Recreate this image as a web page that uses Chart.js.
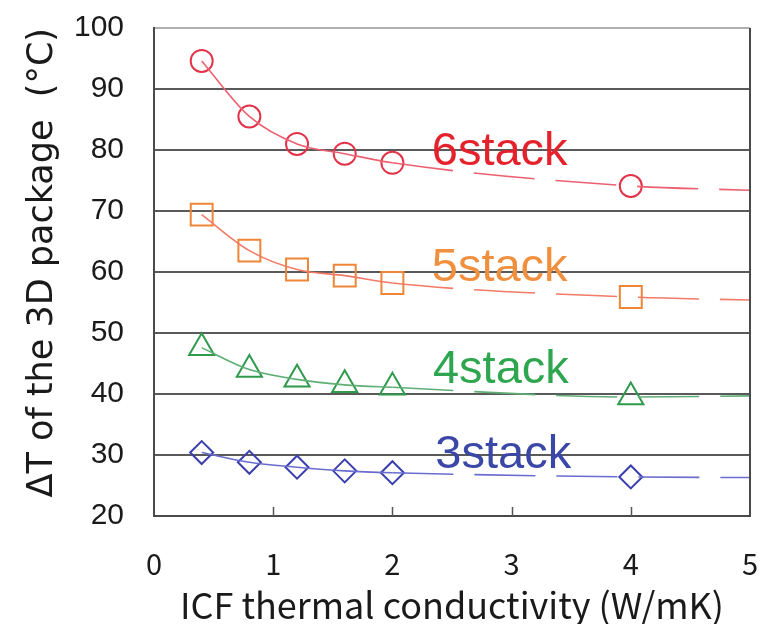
<!DOCTYPE html>
<html>
<head>
<meta charset="utf-8">
<script src="https://cdn.jsdelivr.net/npm/chart.js@4.4.0/dist/chart.umd.min.js"></script>
<style>
  html, body { margin: 0; padding: 0; background: #fff; }
  #wrap { width: 761px; height: 624px; }
</style>
</head>
<body>
<div id="wrap"><canvas id="icf-chart" width="761" height="624"></canvas></div>
<script>
// ICF conductivity (W/mK) where the simulation was run
const kVals = [0.4, 0.8, 1.2, 1.6, 2, 4];
// fit curve runs on to the right edge
const kFit = [0.4, 0.8, 1.2, 1.6, 2, 4, 5];

const seriesNames = ['6stack', '5stack', '4stack', '3stack'];
const stack6 = [94.6, 85.5, 81.0, 79.4, 77.9, 74.1];
const stack5 = [69.4, 63.5, 60.4, 59.4, 58.2, 55.9];
const stack4 = [47.6, 44.0, 42.4, 41.5, 41.1, 39.5];
const stack3 = [30.4, 28.8, 28.0, 27.4, 27.1, 26.4];
const fitEnd = [73.4, 55.4, 39.7, 26.3];   // value of the trend line at k = 5

// where the series names sit, in data units (x, baseline y)
const labelX = [2.33, 2.33, 2.34, 2.36];
const labelY = [77.6, 58.6, 41.8, 27.9];

const yTicks = [20, 30, 40, 50, 60, 70, 80, 90, 100];
const xTicks = [0, 1, 2, 3, 4, 5];

const markerColors = ['#e2334a', '#ef8536', '#2f9a4c', '#3a3fae'];
const lineColors = ['#ec6070', '#f27a66', '#5fae74', '#6a6cd0'];
const textColors = ['#e5222c', '#f0903e', '#2ea54f', '#3a47a6'];
const shapes = ['circle', 'rect', 'triangle', 'rectRot'];
const radii = [11, 15.5, 14.5, 11.5];

const all = [stack6, stack5, stack4, stack3];
let datasets = [];

all.forEach((vals, i) => {
    let fit = vals.map((v, j) => ({ x: kFit[j], y: v }));
    fit.push({ x: kFit[6], y: fitEnd[i] });
    datasets.push({
        label: seriesNames[i] + ' fit',
        data: fit,
        borderColor: lineColors[i],
        borderWidth: 1.6,
        pointRadius: 0,
        fill: false,
        cubicInterpolationMode: 'monotone',
        segment: {
            borderDash: c => c.p0.parsed.x >= 2 ? [61, 21] : undefined
        }
    });
    datasets.push({
        label: seriesNames[i],
        data: vals.map((v, j) => ({ x: kVals[j], y: v })),
        showLine: false,
        pointStyle: shapes[i],
        pointRadius: radii[i],
        pointBorderWidth: 2,
        pointBorderColor: markerColors[i],
        pointBackgroundColor: 'rgba(0,0,0,0)'
    });
});

// names beside the curves, short inner x ticks, right frame line
const extras = {
    id: 'extras',
    afterDatasetsDraw(chart) {
        const { ctx, scales: { x, y }, chartArea } = chart;
        ctx.save();
        ctx.font = '47px "Liberation Sans", Arial, sans-serif';
        ctx.textBaseline = 'alphabetic';
        seriesNames.forEach((name, i) => {
            ctx.fillStyle = textColors[i];
            ctx.fillText(name, x.getPixelForValue(labelX[i]), y.getPixelForValue(labelY[i]));
        });
        ctx.strokeStyle = '#555';
        ctx.lineWidth = 1.5;
        xTicks.slice(1, -1).forEach(t => {
            const px = Math.round(x.getPixelForValue(t)) + 0.5;
            ctx.beginPath();
            ctx.moveTo(px, chartArea.bottom);
            ctx.lineTo(px, chartArea.bottom - 9);
            ctx.stroke();
        });
        ctx.strokeStyle = '#4a4a4a';
        ctx.lineWidth = 2;
        ctx.beginPath();
        ctx.moveTo(chartArea.right, chartArea.top);
        ctx.lineTo(chartArea.right, chartArea.bottom + 1);
        ctx.stroke();
        ctx.restore();
    }
};

const ctx = document.getElementById('icf-chart');
const chart = new Chart(ctx, {
    type: 'line',
    data: { datasets: datasets },
    plugins: [extras],
    options: {
        responsive: false,
        animation: false,
        layout: { autoPadding: false, padding: { top: 28, right: 11, left: 0, bottom: 0 } },
        plugins: {
            legend: { display: false },
            tooltip: { enabled: false }
        },
        scales: {
            x: {
                type: 'linear',
                min: 0,
                max: 5,
                afterFit: s => { s.height = 108; s.paddingLeft = 0; s.paddingRight = 0; },
                afterBuildTicks: s => { s.ticks = xTicks.map(v => ({ value: v })); },
                grid: { display: true, drawOnChartArea: false, drawTicks: false },
                border: { color: '#4a4a4a', width: 2 },
                ticks: {
                    color: '#1a1a1a',
                    padding: 31,
                    font: { family: '"Noto Sans CJK JP", "Liberation Sans", sans-serif', size: 29 }
                },
                title: {
                    display: true,
                    text: 'ICF thermal conductivity (W/mK)',
                    color: '#1a1a1a',
                    padding: { top: 0, bottom: 0 },
                    font: { family: '"Noto Sans CJK JP", "Liberation Sans", sans-serif', size: 36, lineHeight: 1.05 }
                }
            },
            y: {
                min: 20,
                max: 100,
                afterFit: s => { s.width = 154; s.paddingTop = 0; s.paddingBottom = 0; },
                afterBuildTicks: s => { s.ticks = yTicks.map(v => ({ value: v })); },
                grid: {
                    drawTicks: false,
                    color: c => c.tick && c.tick.value === 100 ? '#b0b0b0' : '#5a5a5a',
                    lineWidth: 2
                },
                border: { color: '#4a4a4a', width: 2 },
                ticks: {
                    color: '#1a1a1a',
                    padding: 30,
                    font: { family: '"Liberation Sans", Arial, sans-serif', size: 30 }
                },
                title: {
                    display: true,
                    text: 'ΔT of the 3D package  (°C)',
                    align: 'end',
                    color: '#1a1a1a',
                    padding: { top: 22, bottom: 0 },
                    font: { family: '"DejaVu Sans", sans-serif', size: 35, lineHeight: 1.2 }
                }
            }
        }
    }
});
</script>
</body>
</html>
